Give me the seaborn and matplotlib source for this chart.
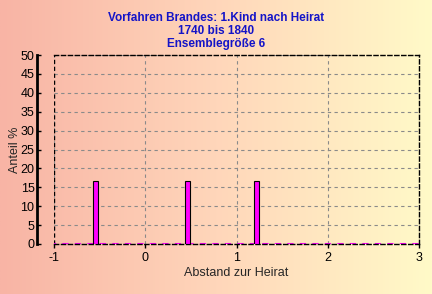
import numpy as np
import pandas as pd
import matplotlib
matplotlib.use("Agg")
import matplotlib.pyplot as plt
import seaborn as sns

# data
abstand = [-0.54, 0.46, 1.22]
anteil = [16.67, 16.67, 16.67]
xticks = [-1, 0, 1, 2, 3]
yticks = list(range(0, 51, 5))
title_lines = ["Vorfahren Brandes: 1.Kind nach Heirat", "1740 bis 1840", "Ensemblegröße 6"]
xlabel = "Abstand zur Heirat"
ylabel = "Anteil %"

sns.set_style("white")
plt.rcParams["font.family"] = ["Liberation Sans", "DejaVu Sans"]

W, H = 432, 294
fig = plt.figure(figsize=(W / 100, H / 100), dpi=100)

# background gradient
bg = fig.add_axes([0, 0, 1, 1], zorder=-10)
stops = np.array([[248, 180, 165], [255, 214, 186], [255, 250, 200]]) / 255.0
xs = np.linspace(0, 1, 256)
grad = np.stack([np.interp(xs, [0, 0.5, 1], stops[:, c]) for c in range(3)], axis=-1)
bg.imshow(grad[None, :, :], aspect="auto", extent=[0, 1, 0, 1])
bg.set_axis_off()

ax = fig.add_axes([54 / W, 50 / H, 365 / W, 189 / H])
ax.patch.set_alpha(0)

df = pd.DataFrame({"Abstand": abstand, "Anteil": anteil})
min_diff = np.min(np.diff(sorted(abstand)))
sns.barplot(data=df, x="Abstand", y="Anteil", native_scale=True,
            width=0.055 / min_diff, color="#FF00FF", saturation=1,
            edgecolor="black", linewidth=0.8, errorbar=None, ax=ax, zorder=3)

ax.set_xlim(-1, 3)
ax.set_ylim(0, 50)
ax.set_xticks(xticks)
ax.set_xticklabels([str(t) for t in xticks])
ax.set_yticks(yticks)
ax.set_yticklabels([str(t) for t in yticks])

ax.grid(True, linestyle=(0, (3, 3)), color="#8a8a8a", linewidth=0.8, zorder=0)
ax.set_axisbelow(True)
dash = (0, (3, 2))
for s in ["top", "right", "bottom"]:
    ax.spines[s].set_linestyle(dash)
    ax.spines[s].set_color("black")
    ax.spines[s].set_linewidth(1.0)
ax.axvline(-1, color="black", linestyle=dash, linewidth=1.0, zorder=1)
ax.axhline(0, color="#FF00FF", linestyle=(2, (3, 3)), linewidth=1.5, zorder=2)
ax.spines["left"].set_position(("outward", 12))
ax.spines["left"].set_linewidth(2)
ax.spines["left"].set_color("black")

ax.tick_params(axis="y", direction="in", length=3, width=1, pad=2, labelsize=9, colors="black", left=True)
ax.tick_params(axis="x", direction="out", length=3, width=1, pad=3, labelsize=9, colors="black", bottom=True)

ax.set_xlabel(xlabel, fontsize=9, labelpad=2)
ax.set_ylabel(ylabel, fontsize=9, labelpad=0)

fig.text(0.5, 1 - 18 / H, title_lines[0], ha="center", va="center", color="#1414C8", fontsize=8.5, fontweight="bold")
fig.text(0.5, 1 - 31 / H, title_lines[1], ha="center", va="center", color="#1414C8", fontsize=8.5, fontweight="bold")
fig.text(0.5, 1 - 44 / H, title_lines[2], ha="center", va="center", color="#1414C8", fontsize=8.5, fontweight="bold")

fig.savefig("out.png", dpi=100)
